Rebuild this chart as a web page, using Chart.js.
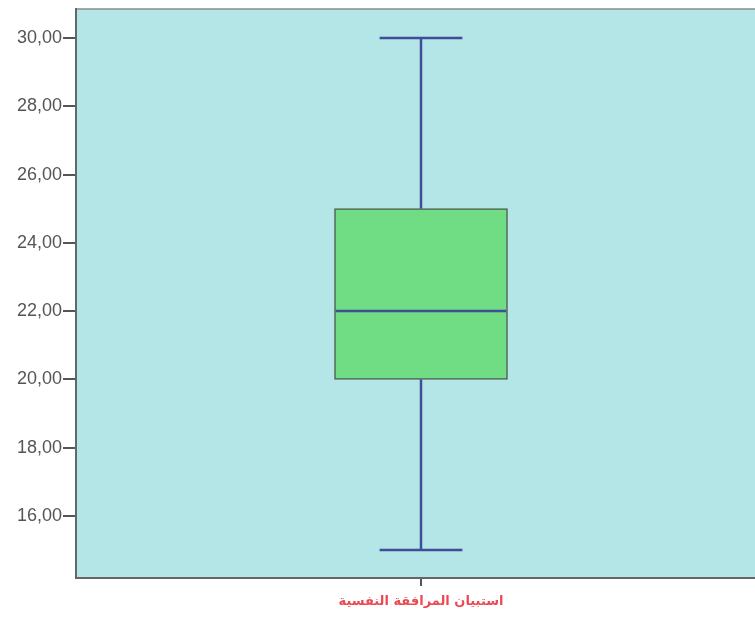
<!DOCTYPE html>
<html>
<head>
<meta charset="utf-8">
<script src="https://cdn.jsdelivr.net/npm/chart.js@4.4.1/dist/chart.umd.min.js"></script>
<style>
  html, body { margin: 0; padding: 0; background: #fff; overflow: hidden; }
  #wrap { width: 766px; height: 617px; }
</style>
</head>
<body>
<div id="wrap"><canvas id="boxChart"></canvas></div>
<script>
// data
var categories = ["استبيان المرافقة النفسية"];
var whiskerLow = [15];
var q1 = [20];
var median = [22];
var q3 = [25];
var whiskerHigh = [30];
var yTicks = [16, 18, 20, 22, 24, 26, 28, 30];

var boxHalf = 0.25;   // half box width, x units
var capHalf = 0.12;   // half whisker cap width
var lineBlue = "#3e4e98";

function hline(i, y, half) {
    return [{x: i - half, y: y}, {x: i + half, y: y}];
}
function vline(i, y0, y1) {
    return [{x: i, y: y0}, {x: i, y: y1}];
}

var datasets = [];
categories.forEach(function (c, i) {
    datasets.push({
        type: "bar",
        data: [{x: i, y: [q1[i], q3[i]]}],
        backgroundColor: "#70dd84",
        borderColor: "#4e5e52",
        borderWidth: 1.5,
        borderSkipped: false,
        barThickness: 173,
        order: 2
    });
    var lines = [
        vline(i, q3[i], whiskerHigh[i]),
        vline(i, whiskerLow[i], q1[i]),
        hline(i, whiskerHigh[i], capHalf),
        hline(i, whiskerLow[i], capHalf),
        hline(i, median[i], boxHalf - 0.003)
    ];
    lines.forEach(function (pts) {
        datasets.push({
            type: "line",
            data: pts,
            borderColor: lineBlue,
            borderWidth: 2.5,
            pointRadius: 0,
            fill: false,
            order: 1
        });
    });
});

// plot background + frame
var frame = {
    id: "frame",
    beforeDraw: function (chart) {
        var a = chart.chartArea, ctx = chart.ctx;
        ctx.save();
        ctx.fillStyle = "#b4e5e7";
        ctx.fillRect(a.left, a.top, a.right - a.left, a.bottom - a.top);
        ctx.strokeStyle = "#8a8a8a";
        ctx.lineWidth = 1.5;
        ctx.beginPath();
        ctx.moveTo(a.left, a.top);
        ctx.lineTo(a.right, a.top);
        ctx.stroke();
        ctx.restore();
    }
};

var ctx = document.getElementById("boxChart");
var boxChart = new Chart(ctx, {
    data: {datasets: datasets},
    plugins: [frame],
    options: {
        responsive: true,
        maintainAspectRatio: false,
        animation: false,
        layout: {padding: {top: 9, left: 0, right: 0, bottom: 0}},
        plugins: {
            legend: {display: false},
            tooltip: {enabled: false}
        },
        scales: {
            x: {
                type: "linear",
                min: -1,
                max: 1,
                offset: false,
                afterBuildTicks: function (s) {
                    s.ticks = categories.map(function (c, i) { return {value: i}; });
                },
                afterFit: function (s) {
                    s.height = 39;
                    s.paddingLeft = 0;
                    s.paddingRight = 0;
                },
                grid: {drawOnChartArea: false, offset: false, tickLength: 8, color: "#555", lineWidth: 2},
                border: {display: true, color: "#666", width: 2},
                ticks: {
                    color: "#ec4a52",
                    padding: 8,
                    font: {family: "DejaVu Sans", size: 13, weight: "bold"},
                    callback: function (v) { return categories[v]; }
                }
            },
            y: {
                min: 14.18,
                max: 30.85,
                afterBuildTicks: function (s) {
                    s.ticks = yTicks.map(function (v) { return {value: v}; });
                },
                afterFit: function (s) {
                    s.width = 76;
                    s.paddingTop = 0;
                    s.paddingBottom = 0;
                },
                grid: {drawOnChartArea: false, tickLength: 13, color: "#555", lineWidth: 2},
                border: {display: true, color: "#666", width: 2},
                ticks: {
                    color: "#555",
                    padding: 1,
                    font: {family: "Liberation Sans", size: 18},
                    callback: function (v) { return v.toFixed(2).replace(".", ","); }
                }
            }
        }
    }
});
</script>
</body>
</html>
